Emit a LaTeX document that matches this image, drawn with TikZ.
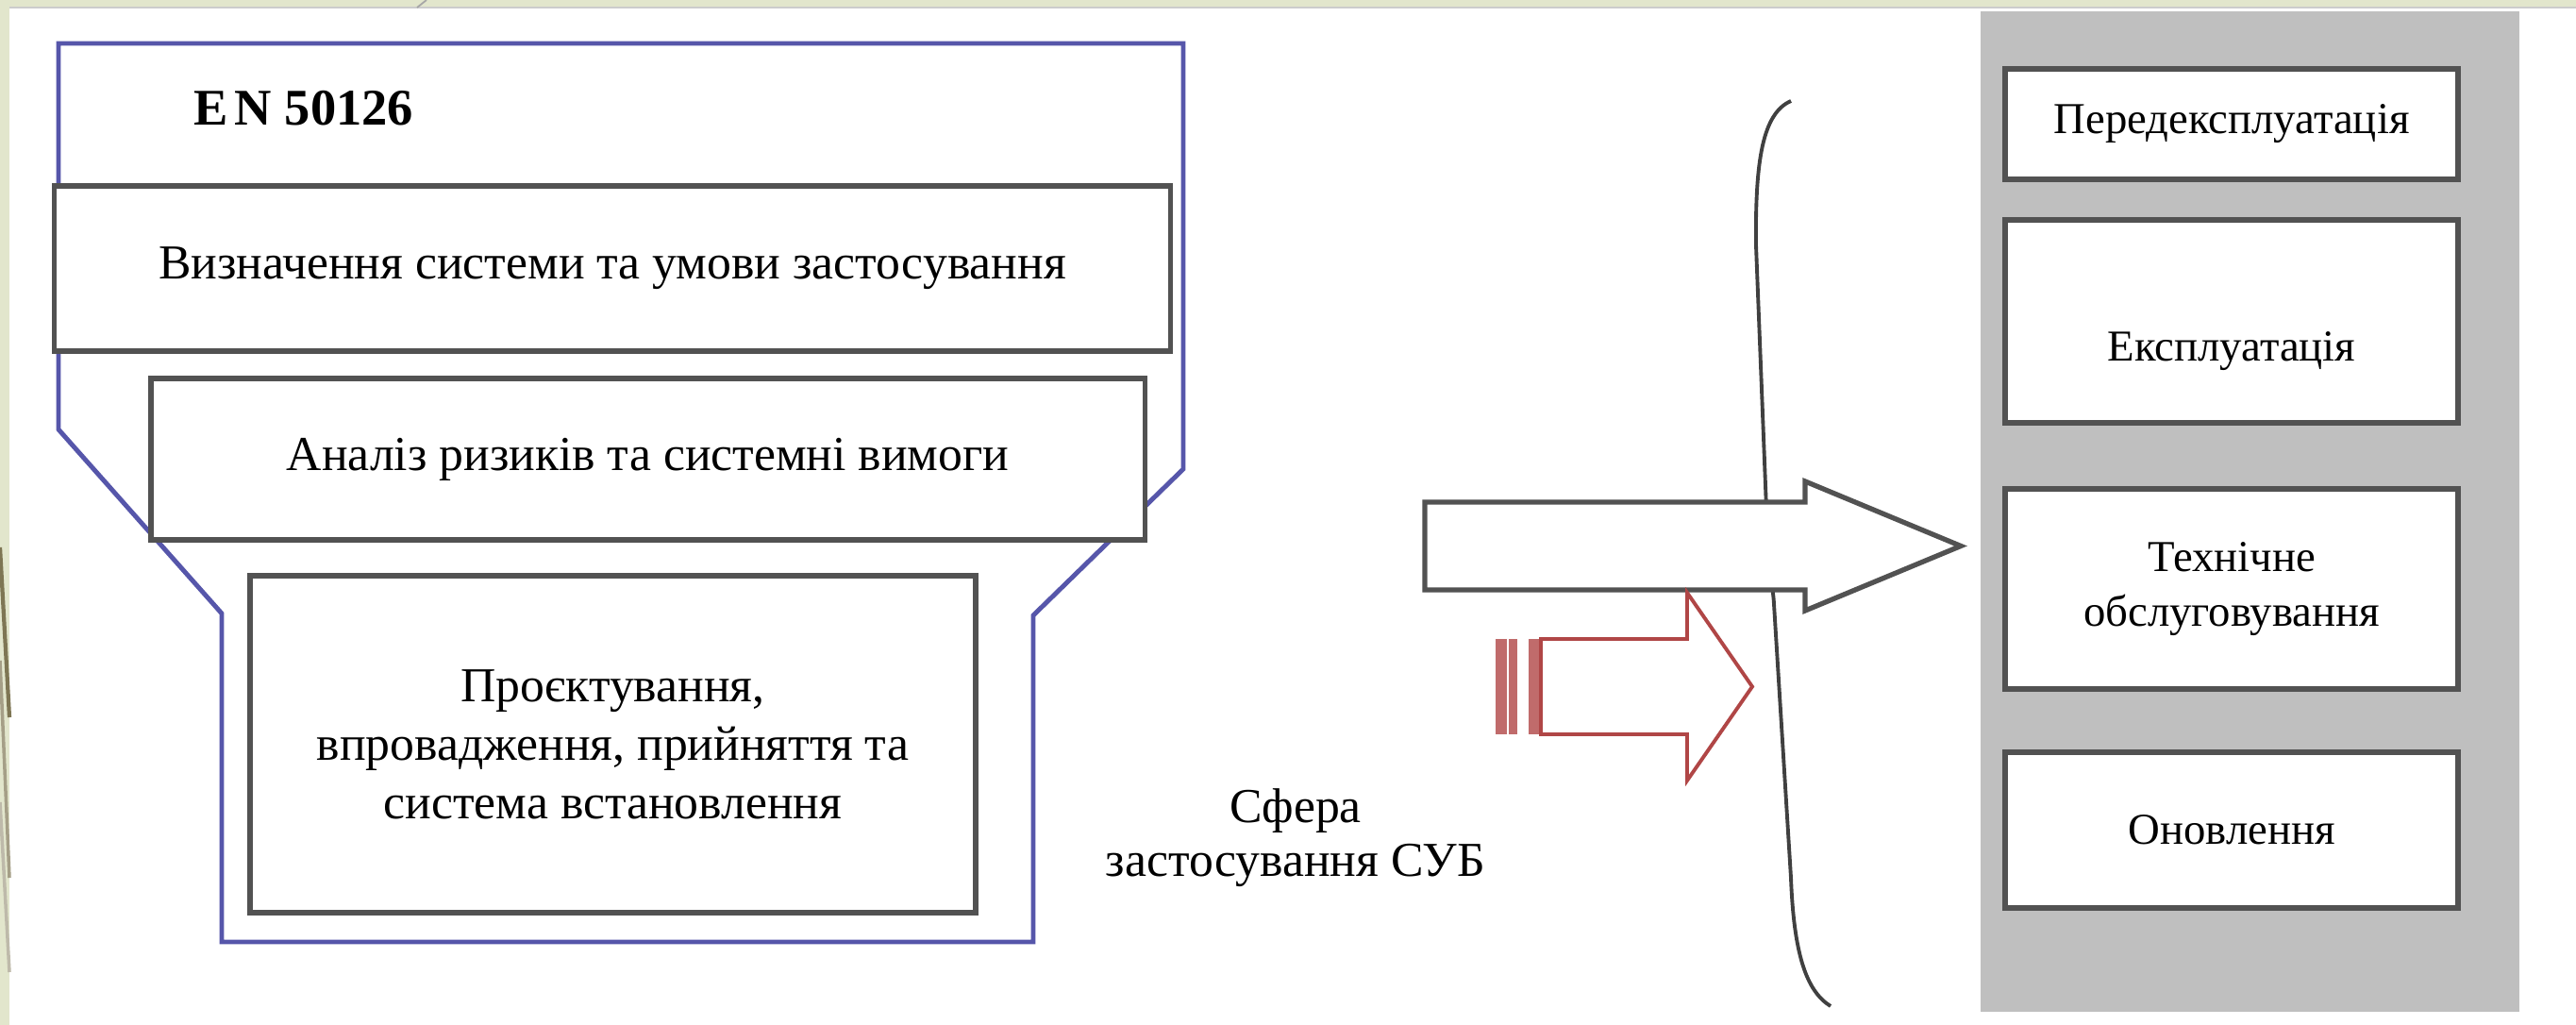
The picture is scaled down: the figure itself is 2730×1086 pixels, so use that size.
\documentclass[tikz,border=0pt]{standalone}
\usepackage{fontspec}
\setmainfont{Liberation Serif}
\definecolor{framblue}{RGB}{86,86,170}
\definecolor{edgegray}{RGB}{82,82,82}
\definecolor{panelgray}{RGB}{191,191,191}
\definecolor{stripred}{RGB}{176,70,70}
\definecolor{slidegreen}{RGB}{226,230,204}
\definecolor{slideolive}{RGB}{126,118,84}
\begin{document}
\begin{tikzpicture}[
  x=0.01cm, y=-0.01cm,
  font=\fontsize{14.7}{17.6}\selectfont,
  stage/.style={rectangle, draw=edgegray, line width=1.6pt, fill=white,
                align=center, inner sep=0pt},
  phase/.style={stage, minimum width=4.8cm, font=\fontsize{13.3}{16.5}\selectfont},
  frameline/.style={draw=framblue, line width=1.4pt},
  blockarrow/.style={draw=edgegray, line width=1.5pt, fill=white},
  stripearrow/.style={draw=stripred, line width=1.1pt, fill=white},
  bracket/.style={draw=black!75, line width=1.1pt}
]
% slide background
\fill[white] (0,0) rectangle (2730,1086);
\useasboundingbox (0,0) rectangle (2730,1086);
\fill[slidegreen] (0,0) rectangle (2730,8);
\fill[slidegreen] (0,0) rectangle (10,1086);
\draw[black!20, line width=0.6pt] (10,8) -- (2730,8);
\draw[black!35, line width=0.5pt] (442,8) -- (452,0);
\draw[slideolive, line width=1.2pt] (0,580) -- (10,760);
\draw[slideolive!70, line width=1pt] (0,700) -- (10,930);
\draw[slideolive!50, line width=1pt] (0,850) -- (10,1030);
% EN 50126 frame
\draw[frameline] (62,46) -- (1254,46) -- (1254,497) -- (1095,652) -- (1095,998)
  -- (235,998) -- (235,650) -- (62,455) -- cycle;
\node[font=\bfseries\fontsize{15.5}{18}\selectfont] (std) at (322,115) {E\kern0.12em N 50126};
% left stack
\node[stage, minimum width=11.82cm, minimum height=1.75cm] (defn) at (649,284.5)
  {Визначення системи та умови застосування};
\node[stage, minimum width=10.53cm, minimum height=1.71cm] (risk) at (686.5,486.5)
  {Аналіз ризиків та системні вимоги};
\node[stage, minimum width=7.69cm, minimum height=3.57cm] (design) at (649.5,788.5)
  {Проєктування,\\впровадження, прийняття та\\система встановлення};
% right column
\fill[panelgray] (2099,12) rectangle (2670,1072);
\node[phase, minimum height=1.17cm] (preop) at (2365,131.5) {Передексплуатація};
\node[phase, minimum height=2.15cm] (oper) at (2365,340.5)
  {\raisebox{-0.42cm}[0pt][0pt]{Експлуатація}};
\node[phase, minimum height=2.12cm] (maint) at (2365,624) {Технічне\\обслуговування};
\node[phase, minimum height=1.65cm] (renew) at (2365,879.5) {Оновлення};
% brace and arrows
\draw[bracket] (1898,107) .. controls (1868,120) and (1860,170) .. (1861,260)
  -- (1872,540) .. controls (1873,570) and (1866,584) .. (1852,588)
  .. controls (1868,592) and (1878,605) .. (1880,640)
  -- (1898,930) .. controls (1901,1010) and (1914,1050) .. (1940,1066);
\draw[blockarrow] (1510,532) -- (1913,532) -- (1913,510) -- (2078,578.5)
  -- (1913,647) -- (1913,625) -- (1510,625) -- cycle;
\foreach \xa/\xb in {1585/1597, 1599/1608, 1620/1632}
  \fill[stripred!80] (\xa,677) rectangle (\xb,778);
\draw[stripearrow] (1633,677) -- (1788,677) -- (1788,628) -- (1857,727.5)
  -- (1788,827) -- (1788,778) -- (1633,778) -- cycle;
\node[align=center, font=\fontsize{14.7}{16.2}\selectfont] (scope) at (1373,888)
  {Сфера\\застосування СУБ};
\end{tikzpicture}
\end{document}
